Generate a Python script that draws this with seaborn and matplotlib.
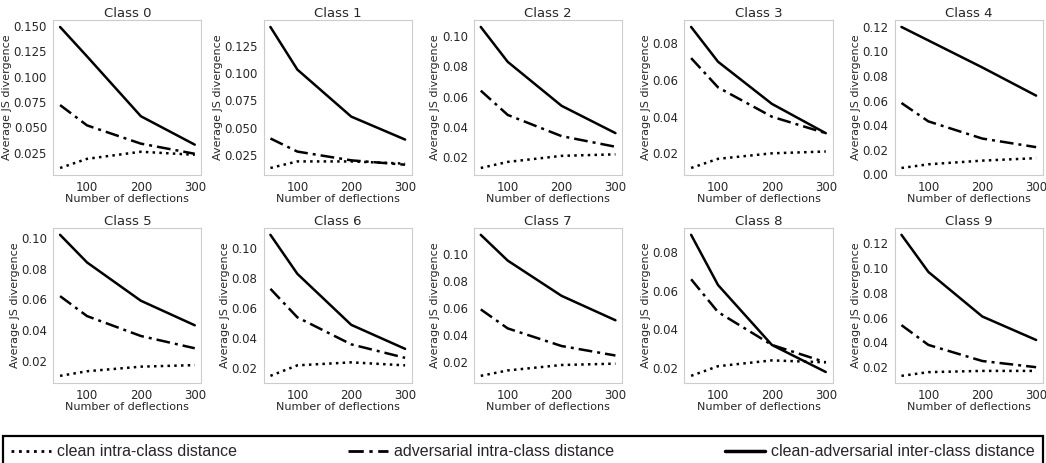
import matplotlib
matplotlib.use("Agg")
import matplotlib.pyplot as plt
from matplotlib.lines import Line2D
from matplotlib.ticker import MaxNLocator
import seaborn as sns
import pandas as pd

deflections = [50, 100, 200, 300]

# per class: clean intra, adversarial intra, clean-adversarial inter
clean_intra = [
    [0.010, 0.019, 0.026, 0.023],
    [0.013, 0.019, 0.019, 0.017],
    [0.013, 0.017, 0.021, 0.022],
    [0.012, 0.017, 0.020, 0.021],
    [0.005, 0.008, 0.011, 0.013],
    [0.010, 0.013, 0.016, 0.017],
    [0.015, 0.022, 0.024, 0.022],
    [0.010, 0.014, 0.018, 0.019],
    [0.016, 0.021, 0.024, 0.023],
    [0.013, 0.016, 0.017, 0.017],
]
adv_intra = [
    [0.072, 0.052, 0.034, 0.024],
    [0.040, 0.028, 0.020, 0.016],
    [0.064, 0.048, 0.034, 0.027],
    [0.072, 0.056, 0.040, 0.031],
    [0.058, 0.043, 0.029, 0.022],
    [0.062, 0.049, 0.036, 0.028],
    [0.073, 0.054, 0.036, 0.027],
    [0.059, 0.045, 0.032, 0.025],
    [0.066, 0.049, 0.032, 0.023],
    [0.054, 0.038, 0.025, 0.020],
]
inter = [
    [0.149, 0.120, 0.061, 0.033],
    [0.142, 0.103, 0.060, 0.039],
    [0.106, 0.083, 0.054, 0.036],
    [0.089, 0.070, 0.047, 0.031],
    [0.120, 0.109, 0.087, 0.064],
    [0.102, 0.084, 0.059, 0.043],
    [0.109, 0.083, 0.049, 0.033],
    [0.114, 0.095, 0.069, 0.051],
    [0.089, 0.063, 0.032, 0.018],
    [0.127, 0.097, 0.061, 0.042],
]

series_names = ["clean intra-class distance",
                "adversarial intra-class distance",
                "clean-adversarial inter-class distance"]
punteado = (1, 1.7)
rayapunto = (5.5, 2, 1.2, 2)
estilos = {series_names[0]: punteado,
           series_names[1]: rayapunto,
           series_names[2]: ""}

sns.set_style("whitegrid", {"axes.grid": False, "axes.edgecolor": ".8"})

fig, axes = plt.subplots(2, 5, figsize=(10.46, 4.63), dpi=100)
fig.subplots_adjust(left=0.051, right=0.997, top=0.957, bottom=0.173,
                    wspace=0.42, hspace=0.34)

for i, ax in enumerate(axes.flat):
    filas = []
    for nombre, valores in zip(series_names, [clean_intra[i], adv_intra[i], inter[i]]):
        for d, v in zip(deflections, valores):
            filas.append({"deflections": d, "js": v, "serie": nombre})
    df = pd.DataFrame(filas)
    sns.lineplot(data=df, x="deflections", y="js", style="serie",
                 dashes=estilos, color="black", linewidth=1.8,
                 legend=False, ax=ax)
    ax.set_title("Class %d" % i, fontsize=9.5, pad=2)
    ax.set_xlabel("Number of deflections", fontsize=8, labelpad=0)
    ax.set_ylabel("Average JS divergence", fontsize=8, labelpad=1)
    ax.set_xticks([100, 200, 300])
    ax.yaxis.set_major_locator(MaxNLocator(nbins=7, steps=[1, 2, 2.5, 5, 10]))
    ax.tick_params(labelsize=8.5, pad=1)

handles = [Line2D([], [], color="black", linestyle=(0, punteado), linewidth=2),
           Line2D([], [], color="black", linestyle=(0, rayapunto), linewidth=2),
           Line2D([], [], color="black", linewidth=2.5)]
leg = fig.legend(handles, series_names, loc="lower left",
                 bbox_to_anchor=(0.003, -0.009, 0.994, 0.08), mode="expand",
                 ncol=3, frameon=True, fancybox=False,
                 handlelength=2.5, handletextpad=0.4, borderaxespad=0,
                 borderpad=0.5,
                 prop={"family": "Liberation Sans", "size": 11.5})
leg.get_frame().set_edgecolor("black")
leg.get_frame().set_linewidth(1.6)
leg.get_frame().set_alpha(1)

plt.savefig("out.png", dpi=100)
